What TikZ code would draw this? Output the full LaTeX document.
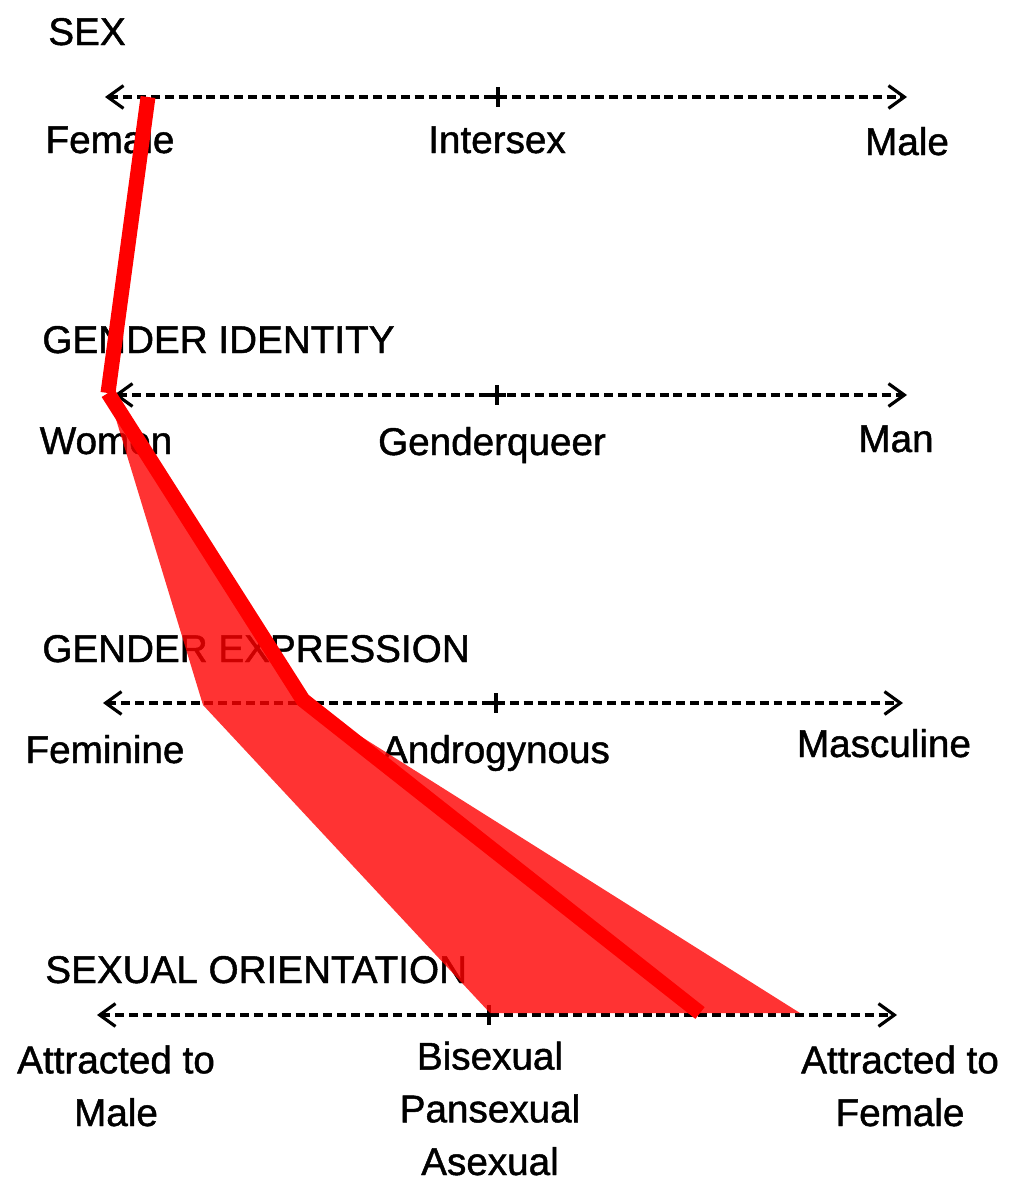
\documentclass[tikz,border=0pt]{standalone}
\usepackage{fontspec}
\setmainfont[FakeBold=1.2]{Liberation Sans}
\usetikzlibrary{arrows.meta, positioning}
\tikzset{
  heading/.style={anchor=base west, inner sep=0pt, font=\fontsize{22}{30}\selectfont},
  pole/.style={anchor=base, inner sep=0pt, align=center, font=\fontsize{22}{30}\selectfont},
  axis/.style={line width=1.8pt, dash pattern=on 5.1pt off 2.8pt,
               {Straight Barb[length=9pt, width=13pt]}-{Straight Barb[length=9pt, width=13pt]}},
  tick/.style={line width=1.8pt},
  spread/.style={fill=red, fill opacity=0.8},
  trace/.style={draw=red, line width=8.5pt},
}
\begin{document}
\begin{tikzpicture}[x=0.02cm, y=-0.02cm]
  \useasboundingbox (0,0) rectangle (1010,1183);

  % sex
  \node[heading] (sex) at (48,45) {SEX};
  \coordinate (sexl) at (105,97);
  \coordinate (sexm) at (498,97);
  \coordinate (sexr) at (907,97);
  \draw[axis] (sexl) -- (sexr);
  \draw[tick] (sexm) +(0,-10) -- +(0,10) (sexm) +(-9,0) -- +(9,0);
  \node[pole] (fem) at (110,153) {Female};
  \node[pole] (inter) at (497,153) {Intersex};
  \node[pole] (male) at (907,155) {Male};

  % gender identity
  \node[heading] (ident) at (42,353) {GENDER IDENTITY};
  \coordinate (idl) at (114,395);
  \coordinate (idm) at (497,395);
  \coordinate (idr) at (907,395);
  \draw[axis] (idl) -- (idr);
  \draw[tick] (idm) +(0,-10) -- +(0,10) (idm) +(-9,0) -- +(9,0);
  \node[pole] (women) at (106,454) {Women};
  \node[pole] (gq) at (492,455) {Genderqueer};
  \node[pole] (man) at (896,452) {Man};

  % gender expression
  \node[heading] (expr) at (42,662) {GENDER EXPRESSION};
  \coordinate (exl) at (103,703);
  \coordinate (exm) at (496,703);
  \coordinate (exr) at (903,703);
  \draw[axis] (exl) -- (exr);
  \draw[tick] (exm) +(0,-10) -- +(0,10) (exm) +(-9,0) -- +(9,0);
  \node[pole] (femn) at (105,763) {Feminine};
  \node[pole] (andro) at (496,763) {Androgynous};
  \node[pole] (masc) at (884,757) {Masculine};

  % sexual orientation
  \node[heading] (orient) at (45,983) {SEXUAL ORIENTATION};
  \coordinate (orl) at (97,1015);
  \coordinate (orm) at (489,1015);
  \coordinate (orr) at (897,1015);
  \draw[axis] (orl) -- (orr);
  \draw[tick] (orm) +(0,-10) -- +(0,10) (orm) +(-9,0) -- +(9,0);
  \node[pole] (attm) at (116,1126) {Attracted to\\Male};
  \node[pole] (bi) at (490,1175) {Bisexual\\Pansexual\\Asexual};
  \node[pole] (attf) at (900,1126) {Attracted to\\Female};

  % red band and line
  \coordinate (p1) at (148,97);
  \coordinate (p2) at (108,393);
  \coordinate (p3) at (303,700);
  \coordinate (p3a) at (203,705);
  \coordinate (p4) at (700,1013);
  \coordinate (p4a) at (490,1013);
  \coordinate (p4b) at (800,1013);
  \fill[spread] (p2) -- (p3) -- (p4b) -- (p4a) -- (p3a) -- cycle;
  \draw[trace] (p1) -- (p2);
  \draw[trace] (p2) -- (p3) -- (p4);
\end{tikzpicture}
\end{document}
